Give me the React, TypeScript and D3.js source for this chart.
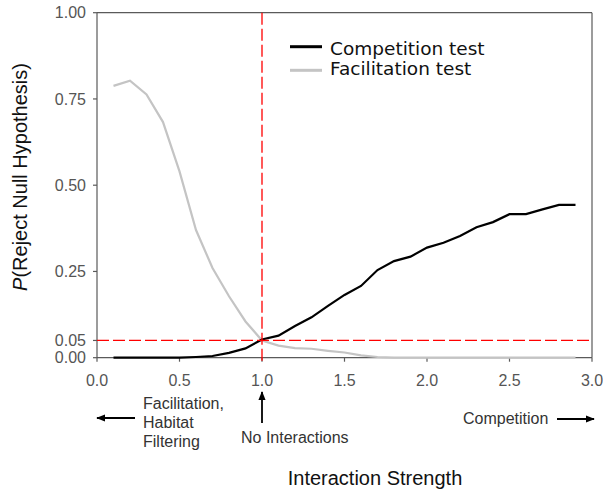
import React from "react";
import * as d3 from "d3";

const strengths = [0.1,0.2,0.3,0.4,0.5,0.6,0.7,0.8,0.9,1.0,1.1,1.2,1.3,1.4,1.5,1.6,1.7,1.8,1.9,2.0,2.1,2.2,2.3,2.4,2.5,2.6,2.7,2.8,2.9];
const competition = [0,0,0,0,0,0.002,0.005,0.014,0.027,0.053,0.064,0.092,0.117,0.15,0.182,0.208,0.254,0.28,0.293,0.319,0.333,0.353,0.378,0.393,0.416,0.416,0.43,0.443,0.443];
const facilitation = [0.788,0.803,0.763,0.683,0.54,0.37,0.26,0.178,0.105,0.05,0.035,0.028,0.026,0.02,0.015,0.007,0.002,0,0,0,0,0,0,0,0,0,0,0,0];
const xTicks = [0, 0.5, 1.0, 1.5, 2.0, 2.5, 3.0];
const yTicks = [0, 0.05, 0.25, 0.5, 0.75, 1.0];
const alpha = 0.05;
const nullStrength = 1.0;
const seriesNames = ["Competition test", "Facilitation test"];

export default function App() {
  const x = d3.scaleLinear().domain([0, 3]).range([97, 592]);
  const y = d3.scaleLinear().domain([0, 1]).range([357.7, 12.7]);
  const line = d3.line<number>().x((_, i) => x(strengths[i])).y((d) => y(d));
  const axisColor = "#5a5a5a";
  const tickFont = "'Liberation Sans', Arial, sans-serif";

  return (
    <svg width={603} height={492} style={{ position: "absolute", left: 0, top: 0, background: "#fff" }}>
      <defs>
        <marker id="ah" viewBox="0 0 10 10" refX="9" refY="5" markerWidth="5" markerHeight="5" orient="auto-start-reverse">
          <path d="M0,1 L10,5 L0,9 z" fill="#000" />
        </marker>
      </defs>
      {/* frame */}
      <line x1={x(0)} x2={x(3)} y1={y(1)} y2={y(1)} stroke={axisColor} strokeWidth={1.2} />
      <line x1={x(3)} x2={x(3)} y1={y(1)} y2={y(0)} stroke={axisColor} strokeWidth={1.2} />
      <line x1={x(0)} x2={x(0)} y1={y(1)} y2={y(0)} stroke={axisColor} strokeWidth={1.2} />
      <line x1={x(0)} x2={x(3)} y1={y(0)} y2={y(0)} stroke={axisColor} strokeWidth={1.2} />
      {yTicks.map((t) => (
        <g key={"y" + t}>
          <line x1={x(0) - 4} x2={x(0)} y1={y(t)} y2={y(t)} stroke={axisColor} strokeWidth={1.2} />
          <text x={86} y={y(t)} dy="0.36em" textAnchor="end" fontFamily={tickFont} fontSize={16} fill="#555">
            {t.toFixed(2)}
          </text>
        </g>
      ))}
      {xTicks.map((t) => (
        <g key={"x" + t}>
          <line x1={x(t)} x2={x(t)} y1={y(0)} y2={y(0) + 4} stroke={axisColor} strokeWidth={1.2} />
          <text x={x(t)} y={386} textAnchor="middle" fontFamily={tickFont} fontSize={16} fill="#555">
            {t.toFixed(1)}
          </text>
        </g>
      ))}
      {/* series */}
      <path d={line(facilitation) || ""} fill="none" stroke="#c4c4c4" strokeWidth={2.2} />
      <path d={line(competition) || ""} fill="none" stroke="#000" strokeWidth={2.2} />
      {/* reference lines */}
      <line x1={x(0)} x2={x(3)} y1={y(alpha)} y2={y(alpha)} stroke="#ff0000" strokeWidth={1.3} strokeDasharray="12,4" />
      <line x1={x(nullStrength)} x2={x(nullStrength)} y1={y(1)} y2={y(0) + 4} stroke="#ff0000" strokeWidth={1.3} strokeDasharray="12,4" />
      {/* legend */}
      <line x1={290} x2={322} y1={46.7} y2={46.7} stroke="#000" strokeWidth={3} />
      <line x1={290} x2={322} y1={70.3} y2={70.3} stroke="#c4c4c4" strokeWidth={3} />
      <text x={330} y={54.5} fontFamily="'DejaVu Sans', sans-serif" fontSize={18.5} fill="#111">{seriesNames[0]}</text>
      <text x={330} y={75} fontFamily="'DejaVu Sans', sans-serif" fontSize={18.5} fill="#111">{seriesNames[1]}</text>
      {/* y label */}
      <text transform="translate(27,177) rotate(-90)" textAnchor="middle" fontFamily={tickFont} fontSize={20} fill="#111">
        <tspan fontStyle="italic">P</tspan>(Reject Null Hypothesis)
      </text>
      {/* annotations */}
      <line x1={135} x2={97} y1={418} y2={418} stroke="#000" strokeWidth={1.8} markerEnd="url(#ah)" />
      <text fontFamily={tickFont} fontSize={16} fill="#333">
        <tspan x={143} y={409}>Facilitation,</tspan>
        <tspan x={143} y={428}>Habitat</tspan>
        <tspan x={143} y={447}>Filtering</tspan>
      </text>
      <line x1={x(nullStrength)} x2={x(nullStrength)} y1={423} y2={392} stroke="#000" strokeWidth={1.8} markerEnd="url(#ah)" />
      <text x={241} y={442.5} fontFamily={tickFont} fontSize={16} fill="#333">No Interactions</text>
      <text x={463} y={423.5} fontFamily={tickFont} fontSize={16} fill="#333">Competition</text>
      <line x1={557} x2={594} y1={419} y2={419} stroke="#000" strokeWidth={1.8} markerEnd="url(#ah)" />
      <text x={375} y={485} textAnchor="middle" fontFamily={tickFont} fontSize={20} fill="#111">Interaction Strength</text>
    </svg>
  );
}
